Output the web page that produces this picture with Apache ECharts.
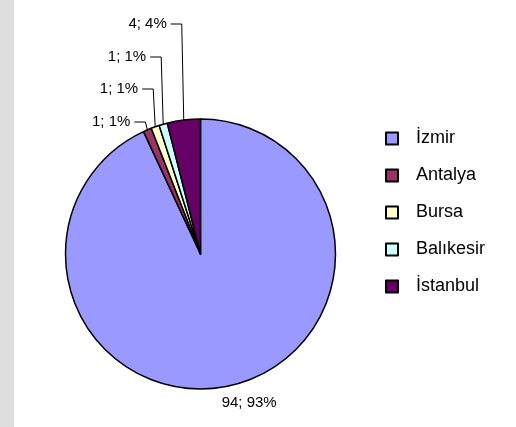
<!DOCTYPE html>
<html>
<head>
<meta charset="utf-8">
<script src="https://cdn.jsdelivr.net/npm/echarts@6/dist/echarts.min.js"></script>
<style>
  html, body { margin: 0; padding: 0; background: #fff; }
  #chart {
    width: 516px;
    height: 427px;
    background: linear-gradient(to right, #dedede 14px, #ffffff 14px);
  }
</style>
</head>
<body>
<div id="chart"></div>
<script>
// data
var cities = ["İzmir", "Antalya", "Bursa", "Balıkesir", "İstanbul"];
var counts = [94, 1, 1, 1, 4];
var colors = ["#9999ff", "#993366", "#ffffcc", "#ccffff", "#660066"];

// label heights for the small slices (İzmir label sits under the pie)
var labelTops = [null, 122, 89, 57, 24];

var chart = echarts.init(document.getElementById("chart"), null, { renderer: "canvas" });

var pieData = cities.map(function (name, i) {
  return {
    name: name,
    value: counts[i],
    itemStyle: { color: colors[i] },
    labelLine: { lineStyle: { opacity: i === 0 ? 0 : 1 } }
  };
});

var option = {
  animation: false,
  textStyle: { fontFamily: "Liberation Sans, Arial, sans-serif" },
  legend: {
    orient: "vertical",
    left: 380,
    top: 123,
    itemWidth: 12,
    itemHeight: 12,
    itemGap: 16,
    icon: "rect",
    itemStyle: { borderColor: "#000", borderWidth: 2 },
    textStyle: {
      fontSize: 18,
      color: "#000",
      lineHeight: 21,
      padding: [0, 0, 0, 13]
    },
    data: cities
  },
  series: [
    {
      type: "pie",
      center: [200.5, 254],
      radius: 135,
      startAngle: 90,
      clockwise: true,
      avoidLabelOverlap: false,
      percentPrecision: 0,
      itemStyle: { borderColor: "#000", borderWidth: 1.5 },
      label: {
        show: true,
        position: "outside",
        formatter: "{c}; {d}%",
        fontSize: 15,
        color: "#000"
      },
      labelLine: {
        show: true,
        length: 10,
        length2: 10,
        lineStyle: { color: "#000", width: 1 }
      },
      labelLayout: function (p) {
        var pts = p.labelLinePoints;
        if (!pts) return {};
        var edge = pts[0];
        var i = p.dataIndex;
        if (i === 0) {
          return {
            x: edge[0] - 8,
            y: edge[1] + 17,
            align: "left",
            verticalAlign: "middle",
            labelLinePoints: [edge, edge, edge]
          };
        }
        var ly = labelTops[i];
        var vx = edge[0] - 2;
        return {
          x: vx - 15,
          y: ly,
          align: "right",
          verticalAlign: "middle",
          labelLinePoints: [edge, [vx, ly], [vx - 11, ly]]
        };
      },
      emphasis: { disabled: true },
      data: pieData
    }
  ]
};

chart.setOption(option);
</script>
</body>
</html>
